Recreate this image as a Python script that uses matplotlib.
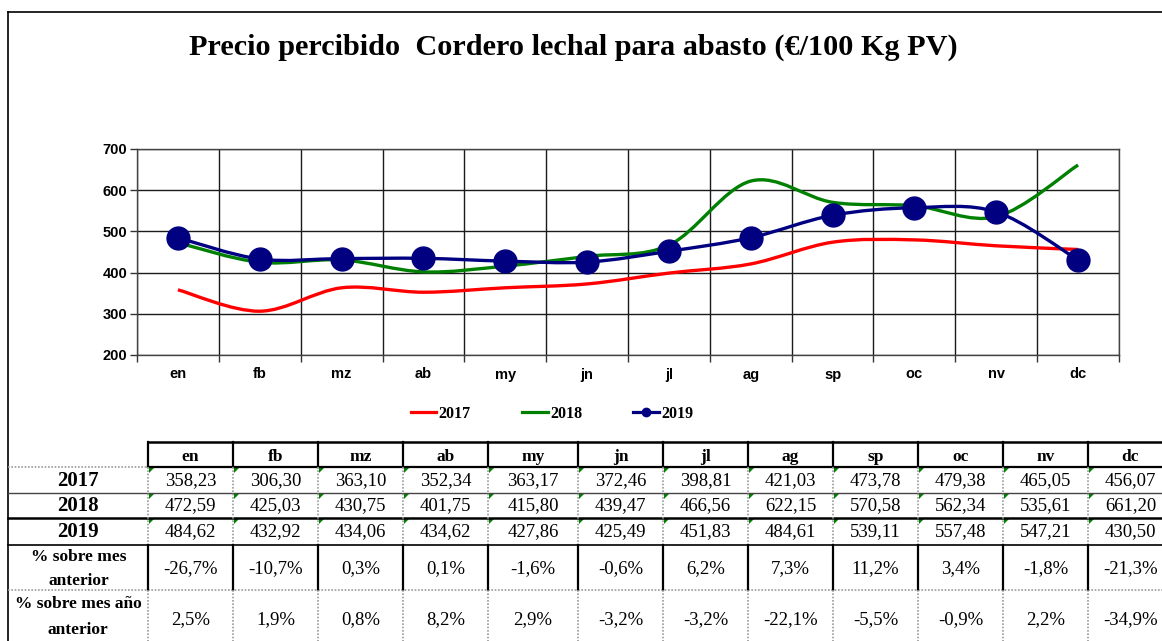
import matplotlib
matplotlib.use("Agg")
import matplotlib.pyplot as plt
from matplotlib.path import Path
from matplotlib.patches import PathPatch, Polygon
from matplotlib.lines import Line2D
import numpy as np

# ---------------- data ----------------
months = ["en", "fb", "mz", "ab", "my", "jn", "jl", "ag", "sp", "oc", "nv", "dc"]
v2017 = [358.23, 306.30, 363.10, 352.34, 363.17, 372.46, 398.81, 421.03, 473.78, 479.38, 465.05, 456.07]
v2018 = [472.59, 425.03, 430.75, 401.75, 415.80, 439.47, 466.56, 622.15, 570.58, 562.34, 535.61, 661.20]
v2019 = [484.62, 432.92, 434.06, 434.62, 427.86, 425.49, 451.83, 484.61, 539.11, 557.48, 547.21, 430.50]
pct_mes_anterior = ["-26,7%", "-10,7%", "0,3%", "0,1%", "-1,6%", "-0,6%", "6,2%", "7,3%", "11,2%", "3,4%", "-1,8%", "-21,3%"]
pct_mes_anio_anterior = ["2,5%", "1,9%", "0,8%", "8,2%", "2,9%", "-3,2%", "-3,2%", "-22,1%", "-5,5%", "-0,9%", "2,2%", "-34,9%"]
series_labels = ["2017", "2018", "2019"]
title = "Precio percibido  Cordero lechal para abasto (€/100 Kg PV)"
yticks = [200, 300, 400, 500, 600, 700]

W, H = 1162, 641
SERIF = "Liberation Serif"
SANS = "Liberation Sans"

fig = plt.figure(figsize=(W / 100, H / 100), dpi=100)
fig.patch.set_facecolor("white")


def fx(px):
    return px / W


def fy(py):
    return 1 - py / H


def fmt(v):
    return f"{v:.2f}".replace(".", ",")


# ---------------- chart ----------------
ax = fig.add_axes([fx(137), fy(355), fx(1119) - fx(137), fy(149) - fy(355)])
ax.set_xlim(-0.5, len(months) - 0.5)
ax.set_ylim(200, 700)
ax.set_yticks(yticks)
ax.set_yticklabels([str(t) for t in yticks], fontfamily=SANS, fontweight="bold", fontsize=10.5)
ax.set_xticks(range(len(months)))
ax.set_xticklabels(months, fontfamily=SANS, fontweight="bold", fontsize=10.5)
ax.set_xticks(np.arange(-0.5, len(months), 1.0), minor=True)
ax.tick_params(axis="x", which="major", length=0, pad=9)
ax.tick_params(axis="x", which="minor", length=5, width=1, color="#333333", direction="out")
ax.tick_params(axis="y", which="major", length=5, width=1, color="#333333", direction="out", pad=2)
ax.grid(True, axis="y", which="major", color="#1a1a1a", lw=1)
ax.grid(True, axis="x", which="minor", color="#1a1a1a", lw=1)
ax.grid(False, axis="x", which="major")
ax.set_axisbelow(True)
for s in ax.spines.values():
    s.set_color("#444444")
    s.set_linewidth(1)


def smooth_path(xs, ys):
    pts = np.column_stack([xs, ys]).astype(float)
    n = len(pts)
    verts = [pts[0]]
    codes = [Path.MOVETO]
    for i in range(n - 1):
        p0 = pts[i - 1] if i > 0 else pts[i]
        p1 = pts[i]
        p2 = pts[i + 1]
        p3 = pts[i + 2] if i + 2 < n else pts[i + 1]
        c1 = p1 + (p2 - p0) / 6.0
        c2 = p2 - (p3 - p1) / 6.0
        verts += [c1, c2, p2]
        codes += [Path.CURVE4] * 3
    return Path(verts, codes)


xs = np.arange(len(months))
colors = ["#FF0000", "#008000", "#000080"]
for vals, col in zip([v2017, v2018, v2019], colors):
    ax.add_patch(PathPatch(smooth_path(xs, vals), fill=False, edgecolor=col, lw=2.4,
                           capstyle="butt", joinstyle="round", zorder=3))
ax.plot(xs, v2019, "o", color="#000080", markersize=16.5, linestyle="none", zorder=4)

handles = [Line2D([], [], color=colors[0], lw=2.3),
           Line2D([], [], color=colors[1], lw=2.3),
           Line2D([], [], color=colors[2], lw=2.3, marker="o", markersize=6)]
fig.legend(handles, series_labels, loc="center", bbox_to_anchor=(fx(552), fy(414)), ncol=3,
           frameon=False, prop={"family": SERIF, "weight": "bold", "size": 11.5},
           handlelength=1.6, handletextpad=0.15, columnspacing=3.2)

fig.text(fx(573), fy(47), title, ha="center", va="center", fontfamily=SERIF,
         fontweight="bold", fontsize=21.8)

# outer border
fig.add_artist(Line2D([fx(8), fx(8)], [fy(12), fy(H + 5)], color="black", lw=1.2))
fig.add_artist(Line2D([fx(8), fx(W + 5)], [fy(12), fy(12)], color="black", lw=1.2))

# ---------------- table ----------------
col_edges = [148, 233, 318, 403, 488, 578, 663, 748, 833, 918, 1003, 1088, 1173]
row_edges = [442, 467, 493, 518, 545, 590, 660]
LX0 = 8


def hline(x0, x1, y, color="black", lw=1.0, ls="-"):
    fig.add_artist(Line2D([fx(x0), fx(x1)], [fy(y), fy(y)], color=color, lw=lw, ls=ls))


def vline(x, y0, y1, color="black", lw=1.0, ls="-"):
    fig.add_artist(Line2D([fx(x), fx(x)], [fy(y0), fy(y1)], color=color, lw=lw, ls=ls))


DOT = (0, (1, 1))
GRAY = "#9a9a9a"
right = W + 20
hline(col_edges[0], right, row_edges[0], lw=1.8)
hline(LX0, col_edges[0], row_edges[1], color=GRAY, lw=1.2, ls=DOT)
hline(col_edges[0], right, row_edges[1], lw=1.6)
hline(LX0, right, row_edges[2], color="#444444", lw=1.0)
hline(LX0, right, row_edges[3], lw=1.8)
hline(LX0, right, row_edges[4], lw=1.2)
hline(LX0, right, row_edges[5], color=GRAY, lw=1.2, ls=DOT)

for x in col_edges:
    vline(x, row_edges[0], row_edges[1], lw=1.6)
    vline(x, row_edges[1], row_edges[4], color=GRAY, lw=1.2, ls=DOT)
    vline(x, row_edges[4], row_edges[5], lw=1.6)
    vline(x, row_edges[5], row_edges[6], color=GRAY, lw=1.2, ls=DOT)

centers = [(col_edges[i] + col_edges[i + 1]) / 2 for i in range(len(months))]

for c, m in zip(centers, months):
    fig.text(fx(c), fy(457), m, ha="center", va="center", fontfamily=SERIF,
             fontweight="bold", fontsize=12.5)

year_rows = [(v2017, 481), (v2018, 506), (v2019, 532)]
for (vals, yc), lab in zip(year_rows, series_labels):
    fig.text(fx(78), fy(yc), lab, ha="center", va="center", fontfamily=SERIF,
             fontweight="bold", fontsize=15)
    for c, v in zip(centers, vals):
        fig.text(fx(c), fy(yc), fmt(v), ha="center", va="center", fontfamily=SERIF, fontsize=13.5)

# green markers (Excel corner triangles)
for (r0, r1) in [(row_edges[1], row_edges[2]), (row_edges[2], row_edges[3]), (row_edges[3], row_edges[4])]:
    for x in col_edges[:-1]:
        tri = Polygon([[fx(x + 1), fy(r0 + 1)], [fx(x + 6), fy(r0 + 1)], [fx(x + 1), fy(r0 + 6)]],
                      closed=True, facecolor="#008000", edgecolor="none", transform=fig.transFigure)
        fig.add_artist(tri)

fig.text(fx(79), fy(557), "% sobre mes", ha="center", va="center", fontfamily=SERIF,
         fontweight="bold", fontsize=12.5)
fig.text(fx(79), fy(581), "anterior", ha="center", va="center", fontfamily=SERIF,
         fontweight="bold", fontsize=12.5)
for c, s in zip(centers, pct_mes_anterior):
    fig.text(fx(c), fy(569), s, ha="center", va="center", fontfamily=SERIF, fontsize=13.5)

fig.text(fx(78), fy(604), "% sobre mes año", ha="center", va="center", fontfamily=SERIF,
         fontweight="bold", fontsize=12.5)
fig.text(fx(78), fy(630), "anterior", ha="center", va="center", fontfamily=SERIF,
         fontweight="bold", fontsize=12.5)
for c, s in zip(centers, pct_mes_anio_anterior):
    fig.text(fx(c), fy(620), s, ha="center", va="center", fontfamily=SERIF, fontsize=13.5)

fig.savefig("out.png", dpi=100, facecolor="white")
